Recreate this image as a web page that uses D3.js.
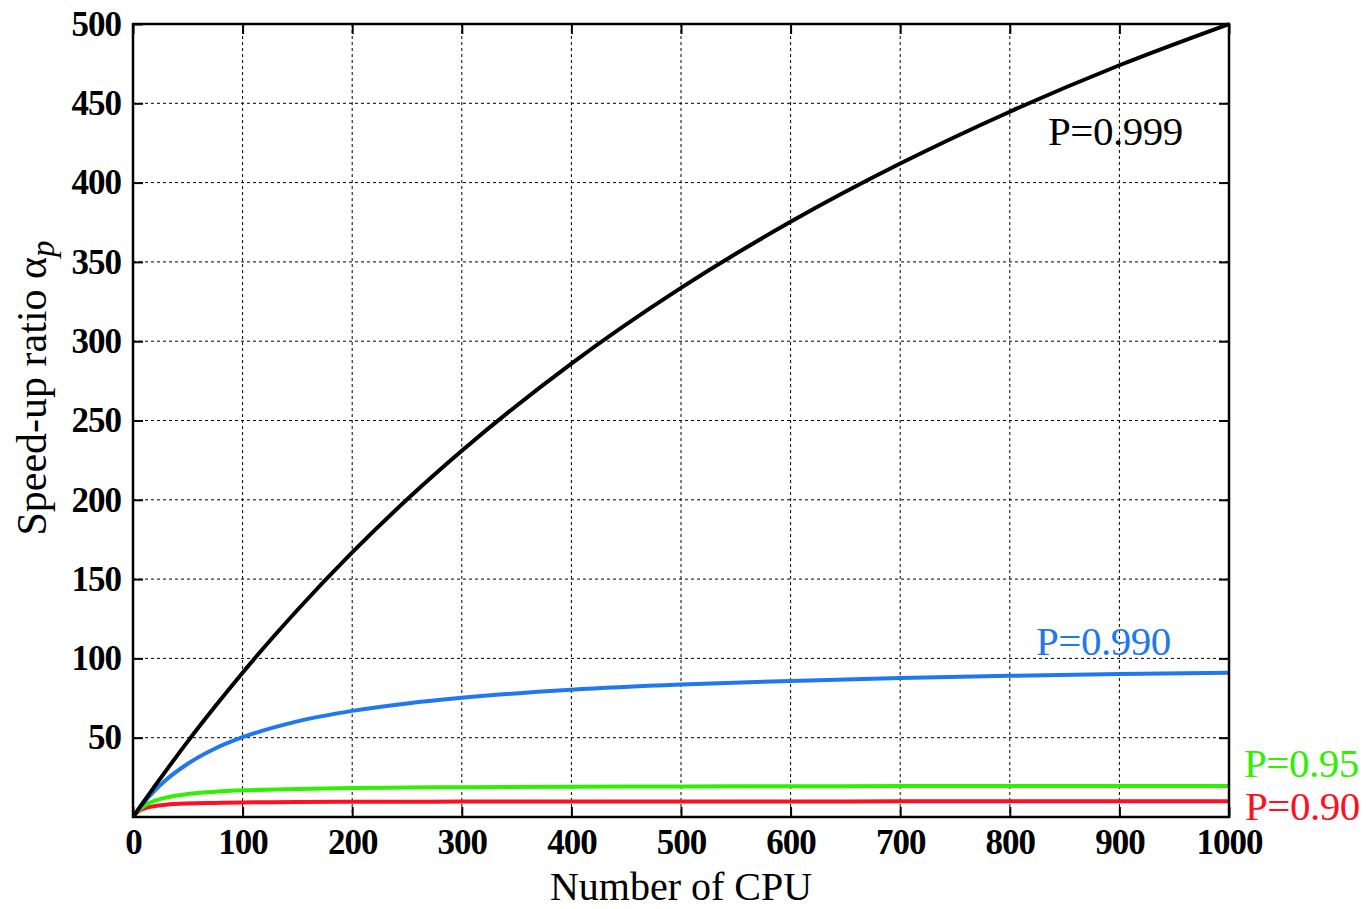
<!DOCTYPE html>
<html lang="en">
<head>
  <meta charset="UTF-8">
  <title>Speed-up ratio</title>
  <style>
    body { margin: 0; background: #fff; }
    text { font-family: "Liberation Serif", "Times New Roman", serif; }
  </style>
</head>
<body>

<svg id="chart" width="1369" height="909"></svg>

<script src="https://d3js.org/d3.v7.min.js"></script>

<script>

    // values
    var cpus     = [1, 5, 10, 20, 30, 50, 75, 100, 150, 200, 250, 300, 400, 500, 600, 700, 800, 900, 1000];
    var p999     = [1, 5.0, 9.9, 19.6, 29.1, 47.7, 69.8, 91.0, 130.5, 166.8, 200.2, 230.9, 285.9, 333.6, 375.3, 412.0, 444.7, 474.0, 500.0];
    var p990     = [1, 4.8, 9.2, 16.8, 23.3, 33.6, 43.2, 50.3, 60.3, 66.9, 71.6, 75.2, 80.2, 83.5, 85.8, 87.6, 89.0, 90.1, 91.0];
    var p950     = [1, 4.2, 6.9, 10.3, 12.2, 14.5, 15.9, 16.8, 17.7, 18.3, 18.6, 18.8, 19.1, 19.3, 19.4, 19.5, 19.5, 19.6, 19.6];
    var p900     = [1, 3.6, 5.3, 6.9, 7.7, 8.5, 8.9, 9.2, 9.4, 9.6, 9.6, 9.7, 9.8, 9.8, 9.8, 9.9, 9.9, 9.9, 9.9];
    var seriesNames  = ["P=0.999", "P=0.990", "P=0.95", "P=0.90"];
    var seriesColors = ["#000000", "#1f78f0", "#2ff000", "#ff1020"];
    var xTicks = [0, 100, 200, 300, 400, 500, 600, 700, 800, 900, 1000];
    var yTicks = [50, 100, 150, 200, 250, 300, 350, 400, 450, 500];

    var svg = d3.select("#chart"),
        mLeft = 133, mRight = 1229, mTop = 24, mBottom = 817,
        x = d3.scaleLinear().domain([0, 1000]).range([mLeft, mRight]),
        y = d3.scaleLinear().domain([0, 500]).range([mBottom, mTop]);

    var series = [p999, p990, p950, p900];

    // grid
    var grid = svg.append("g")
      .attr("stroke", "#000").attr("stroke-width", 1).attr("stroke-dasharray", "3,3");
    xTicks.forEach(function (t) {
      grid.append("line").attr("x1", x(t)).attr("x2", x(t)).attr("y1", mTop).attr("y2", mBottom);
    });
    yTicks.forEach(function (t) {
      grid.append("line").attr("x1", mLeft).attr("x2", mRight).attr("y1", y(t)).attr("y2", y(t));
    });

    // axes with inward ticks
    var fmt = d3.format("d");
    var bottomAxis = d3.axisBottom(x).tickValues(xTicks).tickFormat(fmt).tickSizeInner(-10).tickSizeOuter(0).tickPadding(12);
    var leftAxis = d3.axisLeft(y).tickValues(yTicks).tickFormat(fmt).tickSizeInner(-10).tickSizeOuter(0).tickPadding(12);
    var topAxis = d3.axisTop(x).tickValues(xTicks).tickSizeInner(-10).tickSizeOuter(0).tickFormat("");
    var rightAxis = d3.axisRight(y).tickValues(yTicks).tickSizeInner(-10).tickSizeOuter(0).tickFormat("");

    function styleAxis(g) {
      g.select(".domain").remove();
      g.selectAll(".tick line").attr("stroke", "#000").attr("stroke-width", 2);
      g.selectAll(".tick text")
        .attr("fill", "#000")
        .style("font-family", "'Liberation Serif', serif")
        .style("font-size", "35px")
        .style("font-weight", "bold")
        .style("letter-spacing", "-1px");
    }

    svg.append("g").attr("transform", "translate(0," + mBottom + ")").call(bottomAxis).call(styleAxis);
    svg.append("g").attr("transform", "translate(" + mLeft + ",0)").call(leftAxis).call(styleAxis);
    svg.append("g").attr("transform", "translate(0," + mTop + ")").call(topAxis).call(styleAxis);
    svg.append("g").attr("transform", "translate(" + mRight + ",0)").call(rightAxis).call(styleAxis);

    // curves
    var line = d3.line()
      .x(function (d, i) { return x(cpus[i]); })
      .y(function (d) { return y(d); })
      .curve(d3.curveMonotoneX);

    series.slice().reverse().forEach(function (s, k) {
      var i = series.length - 1 - k;
      svg.append("path")
        .attr("d", line(s))
        .attr("fill", "none")
        .attr("stroke", seriesColors[i])
        .attr("stroke-width", 4)
        .attr("stroke-linejoin", "round");
    });

    // frame
    svg.append("rect")
      .attr("x", mLeft).attr("y", mTop)
      .attr("width", mRight - mLeft).attr("height", mBottom - mTop)
      .attr("fill", "none").attr("stroke", "#000").attr("stroke-width", 2.5);

    // series labels
    var labelPos = [[1048, 145], [1036, 655], [1244, 777], [1245, 820]];
    seriesNames.forEach(function (n, i) {
      svg.append("text")
        .attr("x", labelPos[i][0]).attr("y", labelPos[i][1])
        .attr("fill", seriesColors[i])
        .style("font-size", "41px")
        .style("letter-spacing", "-0.5px")
        .text(n);
    });

    // axis titles
    svg.append("text")
      .attr("x", (mLeft + mRight) / 2).attr("y", 900)
      .attr("text-anchor", "middle")
      .style("font-size", "40px")
      .text("Number of CPU");

    var yt = svg.append("text")
      .attr("transform", "translate(46,388) rotate(-90)")
      .attr("text-anchor", "middle")
      .style("font-size", "42px");
    yt.append("tspan").text("Speed-up ratio \u03b1");
    yt.append("tspan").attr("dy", 8).style("font-style", "italic").style("font-size", "33px").text("p");

</script>

</body>
</html>
